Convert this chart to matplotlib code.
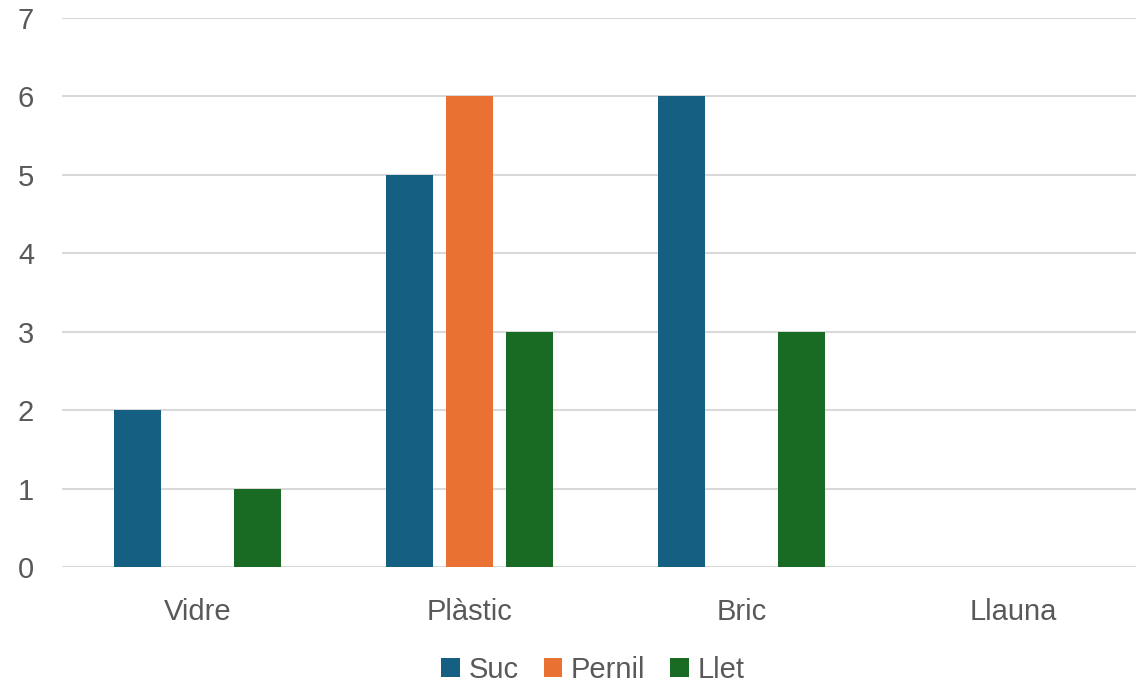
import matplotlib
matplotlib.use("Agg")
import matplotlib.pyplot as plt
import numpy as np

categories = ["Vidre", "Plàstic", "Bric", "Llauna"]
series_names = ["Suc", "Pernil", "Llet"]
suc = [2, 5, 6, 0]
pernil = [0, 6, 0, 0]
llet = [1, 3, 3, 0]
yticks = [0, 1, 2, 3, 4, 5, 6, 7]

colors = ["#156082", "#E97132", "#196B24"]
text_color = "#595959"

plt.rcParams['font.family'] = ['Liberation Sans', 'DejaVu Sans']

fig = plt.figure(figsize=(11.36, 6.84), dpi=100)
W, H = 1136, 684
left_px, right_px = 62, 1149
bottom_px, top_px = 567, 18
ax = fig.add_axes([left_px / W, (H - bottom_px) / H,
                   (right_px - left_px) / W, (bottom_px - top_px) / H])

x = np.arange(len(categories))
bw = 0.173
off = 0.221
for i, (vals, name) in enumerate(zip([suc, pernil, llet], series_names)):
    ax.bar(x + (i - 1) * off, vals, width=bw, color=colors[i], label=name, zorder=3)

ax.set_xlim(-0.5, len(categories) - 0.5)
ax.set_ylim(0, 7)
ax.set_yticks(yticks)
ax.set_yticklabels([str(v) for v in yticks])
ax.set_xticks(x)
ax.set_xticklabels(categories)
ax.yaxis.grid(True, color="#d9d9d9", linewidth=1.5, zorder=0)
ax.set_axisbelow(True)
for s in ax.spines.values():
    s.set_visible(False)
ax.tick_params(axis='both', length=0, labelsize=21, labelcolor=text_color)
ax.tick_params(axis='y', pad=20)
ax.tick_params(axis='x', pad=22)

handles, labels = ax.get_legend_handles_labels()
fig.legend(handles, labels, loc='center', bbox_to_anchor=(593 / W, 1 - 670 / H),
           ncol=3, frameon=False, fontsize=21, labelcolor=text_color,
           handlelength=0.62, handleheight=0.62, handletextpad=0.31,
           columnspacing=0.86, borderpad=0)

fig.savefig("out.png", dpi=100)
